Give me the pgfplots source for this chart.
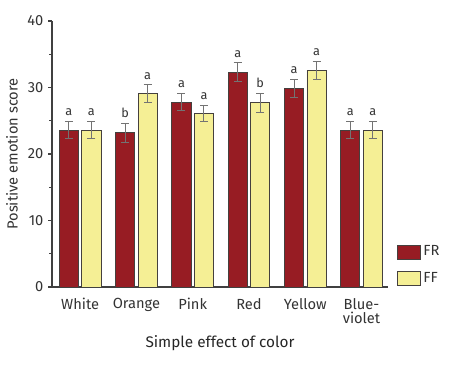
\documentclass[border=0pt]{standalone}
\usepackage{pgfplots}
\pgfplotsset{compat=1.18}
\usepackage{pgfplotstable}
\usepackage{fontspec}
\setmainfont{Fira Sans}
\definecolor{frcol}{HTML}{971C23}
\definecolor{ffcol}{HTML}{F5EF95}
\definecolor{edge}{HTML}{45403E}
\definecolor{txt}{HTML}{333333}
\pgfplotstableread{
x FR FRe FRl FF FFe FFl
0 23.6 1.3 a 23.6 1.3 a
1 23.2 1.4 b 29.1 1.3 a
2 27.8 1.3 a 26.1 1.25 a
3 32.3 1.4 a 27.7 1.4 b
4 29.9 1.35 a 32.6 1.35 a
5 23.6 1.3 a 23.6 1.3 a
}\datatable
\begin{document}
\begin{tikzpicture}
\useasboundingbox (0,0) rectangle (337.5pt,277.5pt);
\begin{axis}[
  at={(39pt,62.25pt)}, anchor=south west,
  width=252pt, height=199.5pt, scale only axis,
  xmin=-0.5, xmax=5.47, ymin=0, ymax=40,
  axis x line*=bottom, axis y line*=left,
  axis line style={draw=black!75, line width=0.8pt, -},
  xtick={0,1,2,3,4,5},
  xticklabels={White,Orange,Pink,Red,Yellow,{Blue-\\violet}},
  xticklabel style={align=center, font=\fontsize{11}{10.5}\selectfont, text=txt, yshift=-2pt},
  x tick style={draw=none},
  ytick={0,10,20,30,40},
  minor ytick={5,15,25,35},
  tick align=outside,
  major tick length=3pt, minor tick length=2pt,
  y tick style={draw=black!75, line width=0.8pt},
  yticklabel style={font=\fontsize{11}{12}\selectfont, text=txt},
  /pgf/number format/assume math mode=true,
  ylabel={Positive emotion score},
  ylabel style={at={(axis description cs:-0.119,0.5)}, anchor=center, font=\fontsize{11}{12}\selectfont, text=txt},
  xlabel={Simple effect of color},
  xlabel style={at={(axis description cs:0.5,-0.21)}, anchor=center, font=\fontsize{11.5}{12}\selectfont, text=black!85},
  legend style={at={(axis description cs:1.027,0)}, anchor=south west, draw=none, fill=none,
    inner sep=0pt, font=\fontsize{11}{12}\selectfont, text=txt, row sep=6.5pt},
  legend cell align=left,
  legend image code/.code={\draw[#1, draw=edge, line width=0.6pt] (0pt,-5.25pt) rectangle (17pt,5.25pt);},
  error bars/error bar style={draw=black!55, line width=0.7pt},
  error bars/error mark options={draw=black!55, line width=0.7pt, mark size=3pt, rotate=90},
]
\addplot[ybar, bar width=0.34, bar shift=0, fill=frcol, draw=edge, line width=0.6pt,
  error bars/.cd, y dir=both, y explicit]
  table[x expr=\thisrow{x}-0.2, y=FR, y error=FRe] {\datatable};
\addlegendentry{FR}
\addplot[ybar, bar width=0.34, bar shift=0, fill=ffcol, draw=edge, line width=0.6pt,
  error bars/.cd, y dir=both, y explicit]
  table[x expr=\thisrow{x}+0.2, y=FF, y error=FFe] {\datatable};
\addlegendentry{FF}
\addplot[forget plot, draw=none, nodes near coords, point meta=explicit symbolic,
  nodes near coords style={anchor=south, font=\fontsize{9.5}{10}\selectfont, text=txt, inner sep=1pt, yshift=3pt}]
  table[x expr=\thisrow{x}-0.2, y expr=\thisrow{FR}+\thisrow{FRe}, meta=FRl] {\datatable};
\addplot[forget plot, draw=none, nodes near coords, point meta=explicit symbolic,
  nodes near coords style={anchor=south, font=\fontsize{9.5}{10}\selectfont, text=txt, inner sep=1pt, yshift=3pt}]
  table[x expr=\thisrow{x}+0.2, y expr=\thisrow{FF}+\thisrow{FFe}, meta=FFl] {\datatable};
\end{axis}
\end{tikzpicture}
\end{document}
